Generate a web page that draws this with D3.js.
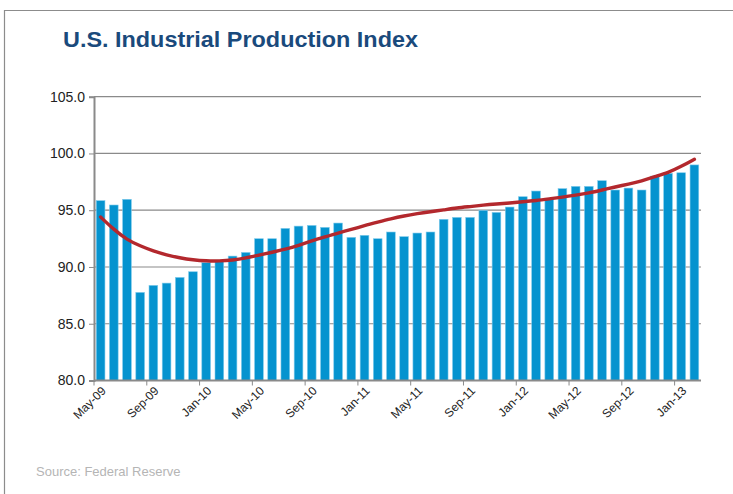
<!DOCTYPE html>
<html>
<head>
<meta charset="utf-8">
<script src="https://cdn.jsdelivr.net/npm/d3@7"></script>
<style>
  html, body { margin: 0; padding: 0; background: #fff; }
  svg { display: block; }
</style>
</head>
<body>
<svg id="chart" width="733" height="494"></svg>
<script>
const categories = [
  "May-09","Jun-09","Jul-09","Aug-09","Sep-09","Oct-09","Nov-09","Dec-09",
  "Jan-10","Feb-10","Mar-10","Apr-10","May-10","Jun-10","Jul-10","Aug-10",
  "Sep-10","Oct-10","Nov-10","Dec-10","Jan-11","Feb-11","Mar-11","Apr-11",
  "May-11","Jun-11","Jul-11","Aug-11","Sep-11","Oct-11","Nov-11","Dec-11",
  "Jan-12","Feb-12","Mar-12","Apr-12","May-12","Jun-12","Jul-12","Aug-12",
  "Sep-12","Oct-12","Nov-12","Dec-12","Jan-13","Feb-13"
];
const indexValues = [
  95.84, 95.46, 95.96, 87.76, 88.38, 88.58, 89.08, 89.58,
  90.38, 90.55, 90.96, 91.28, 92.49, 92.49, 93.40, 93.60,
  93.66, 93.49, 93.87, 92.61, 92.79, 92.49, 93.08, 92.67,
  92.99, 93.08, 94.20, 94.37, 94.37, 94.99, 94.81, 95.28,
  96.19, 96.69, 96.05, 96.90, 97.10, 97.10, 97.60, 96.78,
  96.95, 96.78, 98.00, 98.25, 98.30, 98.99
];
const trendValues = [
  94.40, 93.30, 92.40, 91.85, 91.40, 91.05, 90.80, 90.62,
  90.53, 90.52, 90.60, 90.78, 91.05, 91.30, 91.55, 91.90,
  92.30, 92.65, 93.00, 93.30, 93.65, 93.95, 94.25, 94.50,
  94.70, 94.87, 95.03, 95.20, 95.32, 95.45, 95.55, 95.64,
  95.74, 95.85, 96.00, 96.15, 96.33, 96.52, 96.78, 97.05,
  97.30, 97.57, 97.96, 98.30, 98.85, 99.49
];
const yTicks = [80, 85, 90, 95, 100, 105];
const xTickLabels = ["May-09","Sep-09","Jan-10","May-10","Sep-10","Jan-11",
  "May-11","Sep-11","Jan-12","May-12","Sep-12","Jan-13"];

const svg = d3.select("#chart");
const M = { left: 94, right: 701, top: 96.7, bottom: 380.5 };
const FONT = "Liberation Sans, Arial, sans-serif";

// slide frame
svg.append("path")
  .attr("d", "M4.5,494 L4.5,10.5 L733,10.5")
  .attr("fill", "none").attr("stroke", "#8c8c8c").attr("stroke-width", 1.2);

svg.append("text")
  .attr("x", 63).attr("y", 47)
  .attr("font-family", FONT)
  .attr("font-weight", "bold").attr("font-size", 22)
  .attr("textLength", 355).attr("lengthAdjust", "spacingAndGlyphs")
  .attr("fill", "#1a4a7c")
  .text("U.S. Industrial Production Index");

const x = d3.scaleBand().domain(categories).range([M.left, M.right])
  .paddingInner(0.34).paddingOuter(0.17);
const y = d3.scaleLinear().domain([80, 105]).range([M.bottom, M.top]);

// gridlines
svg.append("g").selectAll("line").data(yTicks.filter(d => d > 80)).join("line")
  .attr("x1", M.left).attr("x2", M.right)
  .attr("y1", d => y(d)).attr("y2", d => y(d))
  .attr("stroke", "#8a8a8a").attr("stroke-width", 1.2);

// y axis
const yAxis = d3.axisLeft(y).tickValues(yTicks).tickFormat(d3.format(".1f")).tickSize(5).tickPadding(4);
const gy = svg.append("g").attr("transform", `translate(${M.left},0)`).call(yAxis);
gy.select(".domain").attr("stroke", "#8a8a8a").attr("stroke-width", 2);
gy.selectAll(".tick line").attr("stroke", "#8a8a8a");
gy.selectAll(".tick text").attr("font-family", FONT)
  .attr("font-size", 14).attr("fill", "#222");

// bars
svg.append("g").selectAll("rect").data(indexValues).join("rect")
  .attr("x", (d, i) => x(categories[i]))
  .attr("width", x.bandwidth())
  .attr("y", d => y(d))
  .attr("height", d => y(80) - y(d))
  .attr("fill", "#0593cf")
  .attr("stroke", "#7fcbec").attr("stroke-width", 0.6);

// trend line
const line = d3.line()
  .x((d, i) => x(categories[i]) + x.bandwidth() / 2)
  .y(d => y(d))
  .curve(d3.curveBasis);
svg.append("path").datum(trendValues)
  .attr("d", line)
  .attr("fill", "none").attr("stroke", "#b3282d").attr("stroke-width", 3.4)
  .attr("stroke-linecap", "round");

// x axis
const step = x.step();
svg.append("line")
  .attr("x1", M.left).attr("x2", M.right)
  .attr("y1", y(80)).attr("y2", y(80))
  .attr("stroke", "#8a8a8a").attr("stroke-width", 2);
const tickIdx = d3.range(0, categories.length + 1, 4);
svg.append("g").selectAll("line").data(tickIdx).join("line")
  .attr("x1", i => M.left + i * step).attr("x2", i => M.left + i * step)
  .attr("y1", y(80)).attr("y2", y(80) + 5)
  .attr("stroke", "#8a8a8a").attr("stroke-width", 1);
svg.append("g").selectAll("text").data(xTickLabels).join("text")
  .attr("transform", d => `translate(${x(d) + x.bandwidth() / 2 + 6},${y(80) + 11}) rotate(-45)`)
  .attr("text-anchor", "end")
  .attr("font-family", FONT)
  .attr("font-size", 12).attr("fill", "#222")
  .text(d => d);

svg.append("text")
  .attr("x", 36).attr("y", 476)
  .attr("font-family", FONT)
  .attr("font-size", 13).attr("fill", "#b5b5b5")
  .text("Source: Federal Reserve");
</script>
</body>
</html>
